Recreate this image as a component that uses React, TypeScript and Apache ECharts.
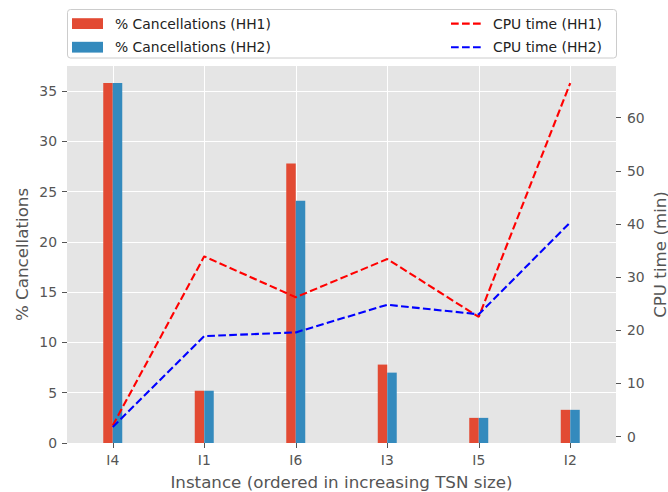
import React, { useEffect, useRef } from "react";
import * as echarts from "echarts";

const categories = ["I4", "I1", "I6", "I3", "I5", "I2"];
const cancelHH1 = [35.8, 5.2, 27.8, 7.8, 2.5, 3.3];
const cancelHH2 = [35.8, 5.2, 24.1, 7.0, 2.5, 3.3];
const cpuHH1 = [2.1, 33.9, 26.2, 33.4, 22.5, 66.5];
const cpuHH2 = [1.8, 18.9, 19.6, 24.8, 23.0, 40.3];
const leftTicks = [0, 5, 10, 15, 20, 25, 30, 35];
const rightTicks = [0, 10, 20, 30, 40, 50, 60];

const FONT = "DejaVu Sans";
const TICK_COLOR = "#555555";
const DASH = [7.7, 3.3];

export default function App() {
  const ref = useRef<HTMLDivElement>(null);
  useEffect(() => {
    if (!ref.current) return;
    const chart = echarts.init(ref.current, null, { renderer: "svg" });
    const legendText = (x: number, y: number, text: string) => ({
      type: "text",
      x,
      y,
      style: {
        text,
        fontFamily: FONT,
        fontSize: 13.9,
        fill: "#222222",
        verticalAlign: "middle",
        align: "left",
      },
    });
    chart.setOption({
      animation: false,
      backgroundColor: "#ffffff",
      textStyle: { fontFamily: FONT },
      grid: {
        left: 67,
        right: 52,
        top: 66,
        bottom: 49,
        show: true,
        backgroundColor: "#E5E5E5",
        borderWidth: 0,
        containLabel: false,
        outerBoundsMode: "none",
      },
      xAxis: {
        type: "category",
        data: categories,
        axisLine: { show: false },
        axisTick: {
          show: true,
          alignWithLabel: true,
          length: 5,
          lineStyle: { color: TICK_COLOR, width: 1 },
        },
        axisLabel: {
          color: TICK_COLOR,
          fontSize: 13.9,
          fontFamily: FONT,
          margin: 10,
        },
        splitLine: {
          show: true,
          alignWithLabel: true,
          lineStyle: { color: "#ffffff", width: 1 },
        },
        name: "Instance (ordered in increasing TSN size)",
        nameLocation: "middle",
        nameGap: 30,
        nameMoveOverlap: false,
        nameTextStyle: { color: TICK_COLOR, fontSize: 16.7, fontFamily: FONT },
      },
      yAxis: [
        {
          type: "value",
          position: "left",
          min: 0,
          max: 37.5,
          axisLine: { show: false },
          axisTick: {
            show: true,
            length: 5,
            customValues: leftTicks,
            lineStyle: { color: TICK_COLOR, width: 1 },
          },
          axisLabel: {
            customValues: leftTicks,
            color: TICK_COLOR,
            fontSize: 13.9,
            fontFamily: FONT,
            margin: 10,
          },
          splitLine: { show: true, lineStyle: { color: "#ffffff", width: 1 } },
          name: "% Cancellations",
          nameLocation: "middle",
          nameGap: 37,
          nameRotate: 90,
          nameMoveOverlap: false,
          nameTextStyle: { color: TICK_COLOR, fontSize: 16.7, fontFamily: FONT },
        },
        {
          type: "value",
          position: "right",
          min: -1.2,
          max: 69.7,
          axisLine: { show: false },
          axisTick: {
            show: true,
            length: 5,
            customValues: rightTicks,
            lineStyle: { color: TICK_COLOR, width: 1 },
          },
          axisLabel: {
            customValues: rightTicks,
            color: TICK_COLOR,
            fontSize: 13.9,
            fontFamily: FONT,
            margin: 11,
          },
          splitLine: { show: false },
          name: "CPU time (min)",
          nameLocation: "middle",
          nameGap: 35,
          nameRotate: 90,
          nameMoveOverlap: false,
          nameTextStyle: { color: TICK_COLOR, fontSize: 16.7, fontFamily: FONT },
        },
      ],
      series: [
        {
          name: "% Cancellations (HH1)",
          type: "bar",
          yAxisIndex: 0,
          data: cancelHH1,
          barWidth: 9.5,
          barGap: "0%",
          itemStyle: { color: "#E24A33" },
          z: 2,
        },
        {
          name: "% Cancellations (HH2)",
          type: "bar",
          yAxisIndex: 0,
          data: cancelHH2,
          barWidth: 9.5,
          barGap: "0%",
          itemStyle: { color: "#348ABD" },
          z: 2,
        },
        {
          name: "CPU time (HH1)",
          type: "line",
          yAxisIndex: 1,
          data: cpuHH1,
          symbol: "none",
          lineStyle: { color: "#FF0000", width: 2.1, type: DASH },
          z: 3,
        },
        {
          name: "CPU time (HH2)",
          type: "line",
          yAxisIndex: 1,
          data: cpuHH2,
          symbol: "none",
          lineStyle: { color: "#0000FF", width: 2.1, type: DASH },
          z: 3,
        },
      ],
      graphic: [
        {
          type: "rect",
          shape: { x: 67.5, y: 9.5, width: 549, height: 48.5, r: 3 },
          style: { fill: "rgba(255,255,255,0.8)", stroke: "#cccccc", lineWidth: 1 },
        },
        {
          type: "rect",
          shape: { x: 72, y: 18.2, width: 31, height: 10.8 },
          style: { fill: "#E24A33" },
        },
        {
          type: "rect",
          shape: { x: 72, y: 41.8, width: 31, height: 10.8 },
          style: { fill: "#348ABD" },
        },
        legendText(115, 23.6, "% Cancellations (HH1)"),
        legendText(115, 47.2, "% Cancellations (HH2)"),
        {
          type: "line",
          shape: { x1: 451, y1: 23.6, x2: 482, y2: 23.6 },
          style: { stroke: "#FF0000", lineWidth: 2.1, lineDash: DASH },
        },
        {
          type: "line",
          shape: { x1: 451, y1: 47.2, x2: 482, y2: 47.2 },
          style: { stroke: "#0000FF", lineWidth: 2.1, lineDash: DASH },
        },
        legendText(493, 23.6, "CPU time (HH1)"),
        legendText(493, 47.2, "CPU time (HH2)"),
      ],
    });
    return () => chart.dispose();
  }, []);
  return (
    <div
      ref={ref}
      style={{ position: "absolute", left: 0, top: 0, width: 668, height: 492 }}
    />
  );
}
